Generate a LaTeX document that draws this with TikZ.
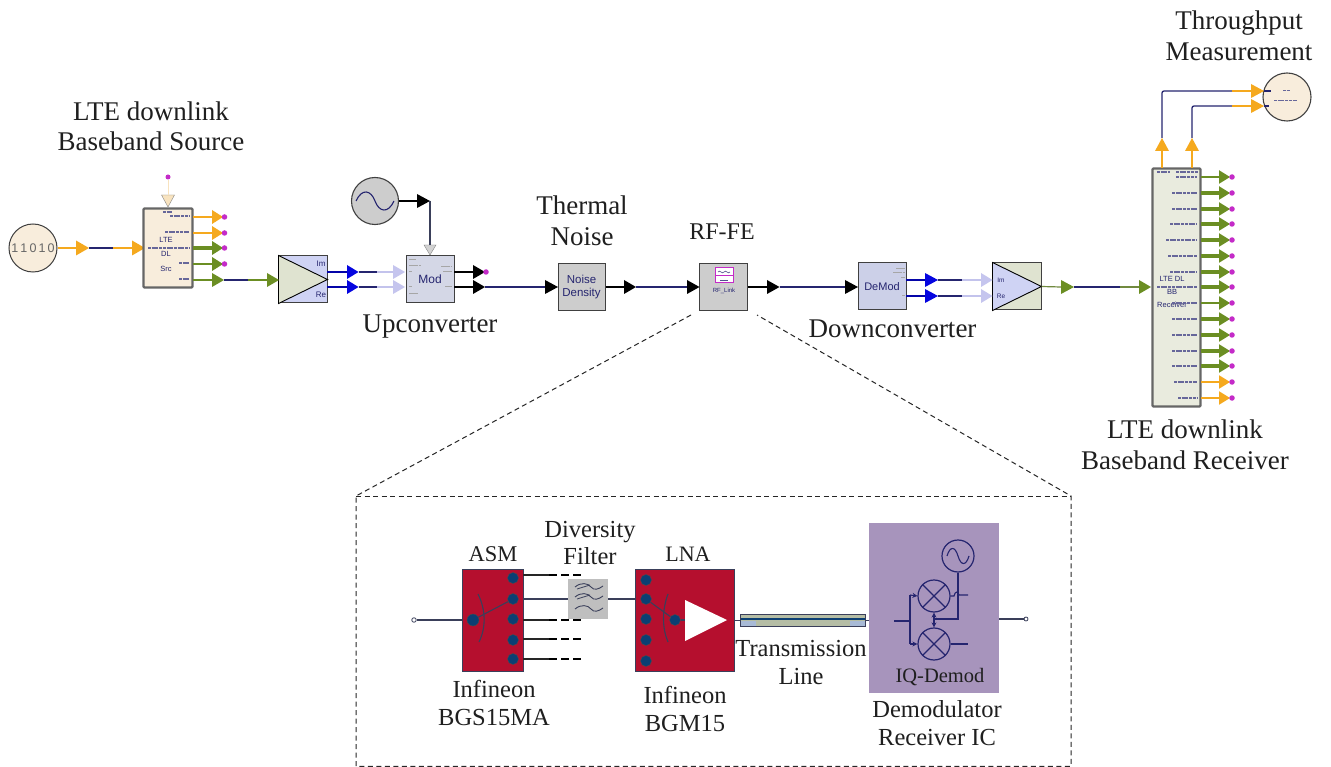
\documentclass[tikz,border=0pt]{standalone}
\usepackage{fontspec}
\usetikzlibrary{arrows.meta}
\setmainfont{Liberation Serif}
\setsansfont{Liberation Sans}
\definecolor{cOr}{HTML}{F5A91E}
\definecolor{cGr}{HTML}{6B8E23}
\definecolor{cBl}{HTML}{0505E0}
\definecolor{cMg}{HTML}{C42BC8}
\definecolor{cDk}{HTML}{25256F}
\definecolor{cPb}{HTML}{C3C3EC}
\definecolor{cPt}{HTML}{C5C5EE}
\definecolor{cPo}{HTML}{F8E3BF}
\definecolor{cGy}{HTML}{BDBDBD}
\definecolor{cCream}{HTML}{F8EDDC}
\definecolor{cLav}{HTML}{CFD3F4}
\definecolor{cSage}{HTML}{DFE3D0}
\definecolor{cRed}{HTML}{B50F2E}
\definecolor{cNavy}{HTML}{0B3F73}
\definecolor{cLine}{HTML}{3A3F5A}
\definecolor{cPurp}{HTML}{A794BC}
\definecolor{cLab}{HTML}{1F1F1F}
\definecolor{cMod}{HTML}{D4D7E6}
\definecolor{cDem}{HTML}{CCD0E8}
\definecolor{cNoi}{HTML}{CDCDCD}
\definecolor{cTlA}{HTML}{B5BDA5}
\definecolor{cTlB}{HTML}{A8BAD6}
\tikzset{
  x=1pt,y=-1pt,
  lab/.style={font=\fontsize{27}{30.5}\selectfont,text=cLab,align=center,inner sep=0pt},
  labs/.style={font=\fontsize{24.5}{27.5}\selectfont,text=cLab,align=center,inner sep=0pt},
  blk/.style={draw=black!75,line width=1pt,inner sep=0pt,font=\sffamily\fontsize{11}{12.5}\selectfont,text=cDk,align=center},
  wire/.style={line width=1.3pt,cDk},
  wO/.style={line width=1.2pt,cOr},
  wOt/.style={line width=2.6pt,cOr},
  wG/.style={line width=1.2pt,cGr},
  wGt/.style={line width=3.2pt,cGr},
  wK/.style={line width=1.2pt,black},
  wB/.style={line width=1.4pt,cBl!75!black},
  wP/.style={line width=1.1pt,cPb},
  dotm/.style={circle,fill=cMg,inner sep=0pt,minimum size=5.5pt},
  port/.style={circle,draw=cLine,fill=white,line width=.8pt,inner sep=0pt,minimum size=4.5pt},
  rdot/.style={circle,fill=cNavy,draw=black!70,line width=.4pt,inner sep=0pt,minimum size=11pt},
  sw/.style={line width=1.1pt,cLine},
  circ/.style={draw=cDk,line width=1.2pt,circle,inner sep=0pt},
  smudge/.style={line width=1.3pt,cDk!70,dash pattern=on 3pt off .7pt},
  faint/.style={line width=1pt,gray!70,dash pattern=on 2.5pt off .7pt},
  ext/.style={line width=1.1pt,cLine},
  zoomline/.style={dash pattern=on 5pt off 3.5pt,line width=1pt,black!85},
}
% tips: name, x (base), y, colour, length, half-height
\newcommand\tipR[6]{\fill[#4] (#2,#3-#6) -- (#2+#5,#3) -- (#2,#3+#6) -- cycle;
  \coordinate (#1i) at (#2,#3); \coordinate (#1o) at (#2+#5,#3);}
\newcommand\tipU[6]{\fill[#4] (#2-#6,#3) -- (#2,#3-#5) -- (#2+#6,#3) -- cycle;
  \coordinate (#1i) at (#2,#3); \coordinate (#1o) at (#2,#3-#5);}
\newcommand\tipD[6]{\fill[#4,draw=cGy!70!black,line width=.4pt] (#2-#6,#3) -- (#2,#3+#5) -- (#2+#6,#3) -- cycle;
  \coordinate (#1i) at (#2,#3); \coordinate (#1o) at (#2,#3+#5);}
\begin{document}
\begin{tikzpicture}
\useasboundingbox (0,0) rectangle (1331,767);
\fill[white] (0,0) rectangle (1331,767);

% ---------- upper labels
\node[lab] (tSrc) at (151,126.5) {LTE downlink\\Baseband Source};
\node[lab] (tThr) at (1239,36) {Throughput\\Measurement};
\node[lab] (tNoi) at (582,221) {Thermal\\Noise};
\node[lab,font=\fontsize{24}{28}\selectfont] (tRf) at (722,232) {RF-FE};
\node[lab] (tUp) at (430,327) {Upconverter};
\node[lab] (tDn) at (892.5,329) {Downconverter};
\node[lab] (tRx) at (1185,445) {LTE downlink\\Baseband Receiver};

% ---------- source
\node[blk,circle,fill=cCream,minimum size=48pt,font=\sffamily\fontsize{12.5}{13}\selectfont,text=black!60] (src) at (33,248) {1\,1\,0\,1\,0};
\tipR{a1}{76}{248}{cOr}{13}{7.5}
\tipR{a2}{132}{248}{cOr}{13}{7.5}
\coordinate (k1) at (113,248);
\draw[wO] (src) -- (a1i);
\draw[wire] (a1o) -- (k1);
\draw[wO] (k1) -- (a2i);

% ---------- LTE source block
\node[blk,draw=black!60,line width=2.2pt,fill=cCream,rounded corners=1pt,minimum width=49pt,minimum height=79pt] (ltx) at (168,248) {};
\node[font=\sffamily\fontsize{7.5}{14.5}\selectfont,text=cDk,inner sep=0pt,align=center] (ltxt) at (166,254) {LTE\\DL\\Src};
\node[dotm,minimum size=5pt] (lt0) at (168,177) {};
\tipD{a0}{168}{195}{cPo}{12}{6.5}
\draw[line width=.8pt,cPo] (lt0) -- (a0i);
\foreach \y/\n/\c/\w in {217/1/cOr/wO,233/2/cOr/wOt,248/3/cGr/wGt,264/4/cGr/wG}{
  \tipR{p\n}{212}{\y}{\c}{11}{7}
  \coordinate (s\n) at (193,\y);
  \draw[\w] (s\n) -- (p\n i);
  \node[dotm] (d\n) at (224.5,\y) {};
}
\foreach \xa/\xb/\y in {163/172/212,170/189/216,165/189/232,148/189/248,179/189/263,179/189/279}{
  \draw[smudge] (\xa,\y) -- (\xb,\y);
}

% ---------- Im/Re converter 1
\node[blk,fill=cLav,minimum width=48pt,minimum height=47pt] (iq1) at (303,279.5) {};
\fill[cSage,draw=black,line width=.9pt] (iq1.north west) -- (iq1.east) -- (iq1.south west) -- cycle;
\draw[line width=1.8pt,black] (iq1.north west) -- (iq1.south west);
\node[font=\sffamily\fontsize{8}{9}\selectfont,text=cDk,inner sep=0pt] (iq1a) at (321,264) {Im};
\node[font=\sffamily\fontsize{8}{9}\selectfont,text=cDk,inner sep=0pt] (iq1b) at (321,295) {Re};
\tipR{b5}{212}{280}{cGr}{12}{7}
\tipR{b6}{267}{280}{cGr}{12}{7}
\coordinate (s5) at (193,280); \coordinate (k5) at (248,280);
\draw[wG] (s5) -- (b5i);
\draw[wire] (b5o) -- (k5);
\draw[wG] (k5) -- (b6i);

% ---------- modulator
\node[blk,fill=cMod,minimum width=48pt,minimum height=47pt,font=\sffamily\fontsize{12}{13}\selectfont] (mod) at (430,279.5) {Mod};
\foreach \xa/\xb/\y in {409/416/260,409/421/266,409/412/272,409/412/287,409/418/294,441/452/267,443/452/272,445/452/287}{
  \draw[faint] (\xa,\y) -- (\xb,\y);
}
\foreach \y/\n in {272/1,287/2}{
  \coordinate (q\n) at (327,\y);
  \coordinate (m\n) at (377,\y);
  \tipR{c\n}{347}{\y}{cBl}{11.5}{7}
  \tipR{e\n}{393}{\y}{cPt}{12}{7}
  \draw[wB] (q\n) -- (c\n i);
  \draw[wire] (c\n o) -- (m\n);
  \draw[wP] (m\n) -- (e\n i);
}
\node[blk,circle,fill=cNoi,minimum size=47pt,line width=1.1pt] (osc) at (375,201) {};
\draw[cDk,line width=1.1pt] (356,201) .. controls (362,188) and (371,190) .. (375,201) .. controls (379,212) and (388,214) .. (394,201);
\tipR{f1}{417}{201}{black}{13}{7}
\tipD{f2}{430}{245}{gray!35}{10}{6}
\draw[wK] (osc) -- (f1i);
\draw[line width=1.1pt,cLine] (f1o) -- (f2i);

% ---------- chain
\node[blk,fill=cNoi,minimum width=47pt,minimum height=47pt,font=\sffamily\fontsize{11.5}{13}\selectfont] (noi) at (581.5,287) {Noise\\Density};
\node[blk,fill=cNoi,minimum width=48pt,minimum height=47pt] (rf) at (723.5,287) {};
\node[font=\sffamily\fontsize{6}{7}\selectfont,text=cDk,inner sep=0pt] (rft) at (724,291) {RF\_Link};
\draw[cMg,line width=1pt,fill=white] (715,268) rectangle (733,283);
\draw[cMg,line width=.8pt] (715,275) -- (733,275);
\draw[cDk!80,line width=.6pt] (718,272) .. controls (720,269) and (722,275) .. (724,272) .. controls (726,269) and (728,275) .. (730,272);
\draw[cDk!80,line width=.6pt] (720,280) -- (728,280);
\node[blk,fill=cDem,minimum width=48pt,minimum height=47pt] (dem) at (882,286.5) {DeMod};
\foreach \xa/\xb/\y in {896/905/269,893/905/273,901/905/278,902/905/296}{
  \draw[faint] (\xa,\y) -- (\xb,\y);
}

\tipR{g1}{473}{272}{black}{12}{7}
\node[dotm] (g1d) at (486,272) {};
\tipR{g2}{473}{287}{black}{12}{7}
\tipR{g3}{545}{287}{black}{13}{7}
\tipR{g4}{624}{287}{black}{12}{7}
\tipR{g5}{687}{287}{black}{12.5}{7}
\tipR{g6}{767}{287}{black}{12.5}{7}
\tipR{g7}{845}{287}{black}{13}{7}
\coordinate (mo1) at (454,272); \coordinate (mo2) at (454,287);
\draw[wK] (mo1) -- (g1i);
\draw[wK] (mo2) -- (g2i);
\draw[wire] (g2o) -- (g3i);
\draw[wK] (noi.east) -- (g4i);
\draw[wire] (g4o) -- (g5i);
\draw[wK] (rf.east) -- (g6i);
\draw[wire] (g6o) -- (g7i);

% ---------- Im/Re converter 2
\node[blk,fill=cSage,minimum width=48pt,minimum height=47pt] (iq2) at (1017,286.5) {};
\fill[cLav,draw=black,line width=.9pt] (iq2.north west) -- (iq2.east) -- (iq2.south west) -- cycle;
\draw[line width=1.8pt,black] (iq2.north west) -- (iq2.south west);
\node[font=\sffamily\fontsize{6.5}{7}\selectfont,text=cDk,inner sep=0pt] (iq2a) at (1001,280) {Im};
\node[font=\sffamily\fontsize{6.5}{7}\selectfont,text=cDk,inner sep=0pt] (iq2b) at (1001,296) {Re};
\foreach \y/\n in {280/1,296/2}{
  \coordinate (dq\n) at (906,\y);
  \coordinate (dm\n) at (962,\y);
  \tipR{h\n}{925}{\y}{cBl}{13}{7}
  \tipR{i\n}{981}{\y}{cPt}{11.5}{7}
  \draw[wB] (dq\n) -- (h\n i);
  \draw[wire] (h\n o) -- (dm\n);
  \draw[wP] (dm\n) -- (i\n i);
}
\tipR{j1}{1061}{287}{cGr}{13}{7}
\tipR{j2}{1139}{287}{cGr}{12}{7}
\coordinate (k9) at (1120,287);
\draw[line width=1.2pt,cGr!70!gray] (iq2.east) -- (j1i);
\draw[wire] (j1o) -- (k9);
\draw[line width=1.2pt,cGr!70!gray] (k9) -- (j2i);

% ---------- receiver
\node[blk,draw=black!60,line width=2.2pt,fill=cSage!70!white,rounded corners=1pt,minimum width=48pt,minimum height=238pt] (rx) at (1176.5,287.5) {};
\node[font=\sffamily\fontsize{7.5}{13}\selectfont,text=cDk,inner sep=0pt,align=center] (rxt) at (1172,292) {LTE DL\\BB\\Receiver};
\foreach \y/\n/\c/\w/\xa in {177/1/cGr/wG/1176,193/2/cGr/wGt/1172,209/3/cGr/wGt/1172,224/4/cGr/wGt/1170,240/5/cGr/wGt/1166,256/6/cGr/wGt/1168,272/7/cGr/wGt/1170,287/8/cGr/wGt/1157,303/9/cGr/wG/1172,319/10/cGr/wGt/1172,335/11/cGr/wGt/1172,351/12/cGr/wGt/1172,366/13/cGr/wGt/1172,382/14/cOr/wO/1174,398/15/cOr/wO/1178}{
  \tipR{r\n}{1219}{\y}{\c}{11}{6.8}
  \coordinate (ro\n) at (1201,\y);
  \draw[\w] (ro\n) -- (r\n i);
  \node[dotm] (rd\n) at (1232,\y) {};
  \draw[smudge] (\xa,\y) -- (1197,\y);
}
\draw[smudge] (1157,172) -- (1170,172) (1176,172) -- (1198,172);

% ---------- throughput
\node[blk,circle,fill=cCream,minimum size=48pt,line width=1.1pt] (thr) at (1287,97) {};
\draw[smudge,line width=1pt] (1283,91) -- (1290,91) (1274,101) -- (1297,101);
\draw[line width=1.3pt,cDk] (1264,91) -- (1271,91) (1264,106) -- (1269,106);
\tipU{u1}{1162}{151}{cOr}{13}{7}
\tipU{u2}{1192}{151}{cOr}{13}{7}
\tipR{v1}{1251}{91}{cOr}{13}{7}
\tipR{v2}{1251}{106}{cOr}{13}{7}
\coordinate (rt1) at (1162,168); \coordinate (rt2) at (1192,168);
\coordinate (c1) at (1162,91); \coordinate (c2) at (1192,106);
\coordinate (n1) at (1232,91); \coordinate (n2) at (1232,106);
\draw[wO] (rt1) -- (u1i);
\draw[wO] (rt2) -- (u2i);
\draw[wire,rounded corners=2pt] (u1o) -- (c1) -- (n1);
\draw[wire,rounded corners=2pt] (u2o) -- (c2) -- (n2);
\draw[wO] (n1) -- (v1i);
\draw[wO] (n2) -- (v2i);

% ---------- zoom-out box
\coordinate (zl) at (356,496); \coordinate (zr) at (1071,496);
\coordinate (zbl) at (356,766.3); \coordinate (zbr) at (1071,766.3);
\coordinate (zt1) at (691,315); \coordinate (zt2) at (757,315);
\draw[zoomline] (zt1) -- (zl) -- (zbl) -- (zbr) -- (zr) -- (zt2);
\draw[zoomline] (zl) -- (zr);

% ---------- inset labels
\node[labs,font=\fontsize{22.5}{26}\selectfont] (tAsm) at (493,554) {ASM};
\node[labs,font=\fontsize{22}{26}\selectfont] (tLna) at (688,554) {LNA};
\node[labs] (tDiv) at (590,543) {Diversity\\Filter};
\node[labs] (tI1) at (494,703) {Infineon\\BGS15MA};
\node[labs] (tI2) at (685,709) {Infineon\\BGM15};
\node[labs] (tTl) at (801,662.5) {Transmission\\Line};
\node[labs] (tDe) at (937,723) {Demodulator\\Receiver IC};

% ---------- ASM
\node[port] (pin) at (414,620) {};
\node[draw=cLine,line width=.6pt,fill=cRed,minimum width=61pt,minimum height=102pt,inner sep=0pt] (asm) at (492.5,620) {};
\draw[ext] (pin) -- (asm.west |- pin);
\node[rdot,minimum size=12pt] (a0d) at (473,620) {};
\foreach \y/\n in {578/1,599/2,619/3,640/4,659/5}{
  \node[rdot] (ad\n) at (513,\y) {};
}
\draw[sw] (a0d) -- (ad2);
\draw[sw] (478,594) .. controls (486,610) and (486,628) .. (479,642);
\foreach \y/\n in {575/1,620/3,639/4,659/5}{
  \coordinate (ao\n) at (523,\y);
  \coordinate (an\n) at (549,\y);
  \coordinate (ae\n) at (584,\y);
  \draw[line width=1.1pt,black!85] (ao\n) -- (an\n);
  \draw[line width=1.8pt,black,dash pattern=on 8pt off 4pt] (an\n) -- (ae\n);
}
% filter
\node[fill=gray!50,minimum width=40pt,minimum height=40pt,inner sep=0pt] (flt) at (588,599) {};
\foreach \y in {587,597,609}{
  \draw[cLine,line width=.9pt] (575,\y) .. controls (581,\y-5) and (588,\y-4) .. (591,\y) .. controls (594,\y+4) and (599,\y+2) .. (603,\y-1);
}
\draw[cLine,line width=.8pt] (577,589) -- (590,585) (577,599) -- (590,595);
\coordinate (ao2) at (523,599);
\draw[ext] (ao2) -- (flt.west);

% ---------- LNA
\node[draw=cLine,line width=.6pt,fill=cRed,minimum width=99pt,minimum height=102pt,inner sep=0pt] (lna) at (684.5,620) {};
\draw[ext] (flt.east) -- (lna.west |- flt.east);
\foreach \y/\n in {580/1,599/2,619/3,640/4,661/5}{
  \node[rdot] (ld\n) at (646,\y) {};
}
\node[rdot] (l0d) at (675,620) {};
\draw[sw] (ld2) -- (l0d);
\draw[sw] (668,594) .. controls (662,610) and (662,628) .. (668,642);
\fill[white] (685,600) -- (727,620) -- (685,641) -- cycle;
\draw[sw] (l0d) -- (685,620);

% ---------- transmission line
\node[inner sep=0pt,minimum width=124pt,minimum height=11pt] (tl) at (803,620.5) {};
\fill[cTlA] (tl.north west) rectangle (tl.east);
\fill[cTlB] (tl.west) rectangle (tl.south east);
\fill[cTlA] (tl.south west) ++(15,-5.5) rectangle ++(94,5.5);
\draw[cLine,line width=.8pt] (tl.north west) rectangle (tl.south east);
\draw[line width=1.4pt,cNavy] (tl.west) ++(0,-1.5) -- ++(124,0);
\draw[ext] (lna.east |- tl.west) -- (tl.west);

% ---------- demod IC
\node[fill=cPurp,minimum width=130pt,minimum height=170pt,inner sep=0pt] (ic) at (934,608) {};
\draw[ext] (tl.east) -- (ic.west |- tl.east);
\node[labs,font=\fontsize{20.5}{22}\selectfont] (tIq) at (940,677) {IQ-Demod};
\node[circ,minimum size=32pt] (lo) at (958,556) {};
\draw[cDk,line width=1.1pt] (947,556) .. controls (950,546) and (955,546) .. (958,556) .. controls (961,566) and (966,566) .. (969,556);
\node[circ,minimum size=32pt] (mu) at (934,596) {};
\node[circ,minimum size=32pt] (ml) at (934,644) {};
\draw[cDk,line width=1.1pt] (mu.north west) -- (mu.south east) (mu.north east) -- (mu.south west);
\draw[cDk,line width=1.1pt] (ml.north west) -- (ml.south east) (ml.north east) -- (ml.south west);
\coordinate (iqin) at (894,621); \coordinate (iqj) at (910,621);
\coordinate (iqu) at (910,595); \coordinate (iql) at (910,644);
\draw[cDk,line width=1.1pt] (iqin) -- (iqj);
\draw[cDk,line width=1.1pt,-{Stealth[length=5pt,width=5pt]}] (iqu) -- (mu.west);
\draw[cDk,line width=1.1pt,-{Stealth[length=5pt,width=5pt]}] (iql) -- (ml.west);
\draw[cDk,line width=1.1pt] (iqu) -- (iql);
\coordinate (lob) at (958,619); \coordinate (loj) at (934,619);
\draw[cDk,line width=1.5pt] (lo.south) -- (lob) -- (loj);
\draw[cDk,line width=1.1pt,-{Stealth[length=5pt,width=5pt]}] (loj) -- (mu.south);
\draw[cDk,line width=1.1pt,-{Stealth[length=5pt,width=5pt]}] (loj) -- (ml.north);
\coordinate (mue) at (968,595); \coordinate (mle) at (968,644);
\draw[cDk,line width=1.1pt] (mu.east) -- (954,596) .. controls (955,591) and (958,591) .. (959,595) -- (mue);
\draw[cDk,line width=1.1pt] (ml.east) -- (mle);
\node[port,minimum size=4pt] (pout) at (1026,619) {};
\draw[ext] (ic.east |- pout) -- (pout);
\end{tikzpicture}
\end{document}
